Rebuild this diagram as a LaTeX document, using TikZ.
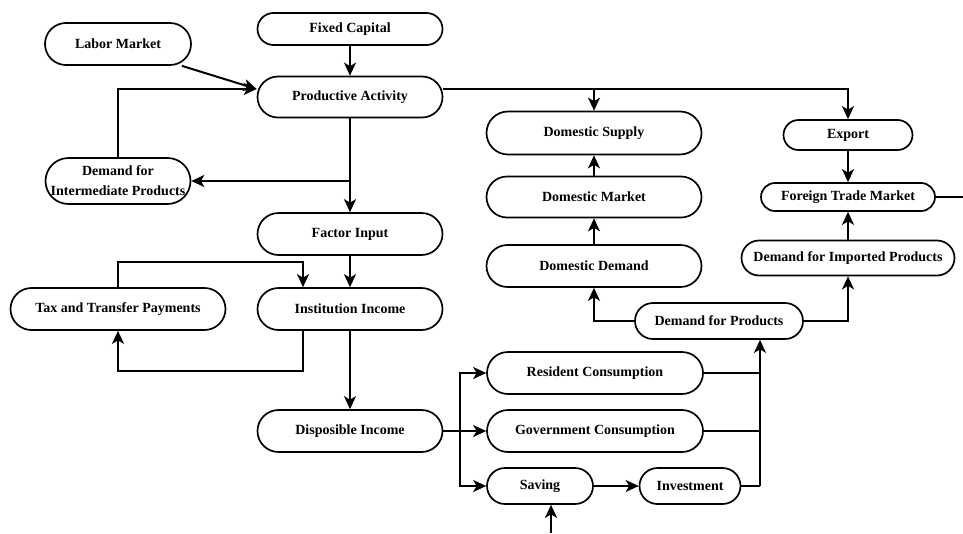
\documentclass[tikz,border=0pt]{standalone}
\usepackage{fontspec}
\setmainfont{Liberation Serif}
\usetikzlibrary{arrows.meta}
\tikzset{
    box/.style 2 args={draw, black, line width=1.7pt, align=center, inner sep=1pt,
        font=\fontsize{14}{20}\selectfont\bfseries,
        minimum width=#1, minimum height=#2, rounded corners=0.5*#2},
    arr/.style={-{Stealth[length=13pt,width=12pt,inset=3.5pt]}, line width=2pt, black},
    line/.style={line width=2pt, black}
}
\begin{document}
\begin{tikzpicture}[x=1pt,y=-1pt]
    \useasboundingbox (0,0) rectangle (963,533);
    % Nodi
    \node[box={146pt}{42pt}] (labor) at (118,44) {Labor Market};
    \node[box={185pt}{32pt}] (fixed) at (350,29) {Fixed Capital};
    \node[box={185pt}{41pt}] (prod) at (350,97) {Productive Activity};
    \node[box={145pt}{46pt}] (inter) at (118,181) {Demand for\\Intermediate Products};
    \node[box={185pt}{42pt}] (factor) at (350,234) {Factor Input};
    \node[box={215pt}{42pt}] (tax) at (118,309) {Tax and Transfer Payments};
    \node[box={185pt}{42pt}] (inst) at (350,309) {Institution Income};
    \node[box={185pt}{42pt}] (disp) at (350,431) {Disposible Income};

    \node[box={215pt}{43pt}] (dsupply) at (594,133) {Domestic Supply};
    \node[box={215pt}{41pt}] (dmarket) at (594,197) {Domestic Market};
    \node[box={215pt}{42pt}] (ddemand) at (594,266) {Domestic Demand};
    \node[box={129pt}{30pt}] (export) at (848,135) {Export};
    \node[box={174pt}{28pt}] (foreign) at (848,197) {Foreign Trade Market};
    \node[box={213pt}{35pt}] (import) at (848,258) {Demand for Imported Products};
    \node[box={168pt}{36pt}] (dprod) at (719,321) {Demand for Products};

    \node[box={216pt}{42pt}] (resident) at (595,373) {Resident Consumption};
    \node[box={216pt}{42pt}] (gov) at (595,431) {Government Consumption};
    \node[box={106pt}{36pt}] (saving) at (540,486) {Saving};
    \node[box={101pt}{36pt}] (invest) at (690,486) {Investment};

    % Punti di appoggio
    \coordinate (pin) at ([yshift=8pt]prod.west);
    \coordinate (pout) at ([yshift=8pt]prod.east);
    \coordinate (split) at (460,431);
    \coordinate (join) at (760,486);
    \coordinate (fout) at (963,197);
    \coordinate (sin) at (551,533);

    % Collegamenti
    \draw[arr] (fixed) -- (prod);
    \draw[arr] ([xshift=-10pt]labor.south east) -- (pin);
    \draw[arr] (inter.north) |- (pin);
    \draw[arr] (prod) -- (factor);
    \draw[arr] (prod.south |- inter.east) -- (inter.east);
    \draw[arr] (factor) -- (inst);
    \draw[arr] (tax.north) -- ++(0,-25) -| ([xshift=-47pt]inst.north);
    \draw[arr] ([xshift=-47pt]inst.south) -- ++(0,40) -| (tax.south);
    \draw[arr] (inst) -- (disp);

    \draw[arr] (pout) -| (export.north);
    \draw[arr] (dsupply.north |- pout) -- (dsupply.north);
    \draw[arr] (export) -- (foreign);
    \draw[arr] (import) -- (foreign);
    \draw[line] (foreign.east) -- (fout);
    \draw[arr] (dmarket) -- (dsupply);
    \draw[arr] (ddemand) -- (dmarket);
    \draw[arr] (dprod.west) -| (ddemand.south);
    \draw[arr] (dprod.east) -| (import.south);

    \draw[line] (disp.east) -- (split);
    \draw[arr] (split) |- (resident.west);
    \draw[arr] (split) -- (gov.west);
    \draw[arr] (split) |- (saving.west);
    \draw[arr] (saving) -- (invest);
    \draw[arr] (sin) -- ([xshift=11pt]saving.south);
    \draw[line] (resident.east) -- (resident.east -| join);
    \draw[line] (gov.east) -- (gov.east -| join);
    \draw[line] (invest.east) -- (join);
    \draw[arr] (join) -- (join |- dprod.south);
\end{tikzpicture}
\end{document}
